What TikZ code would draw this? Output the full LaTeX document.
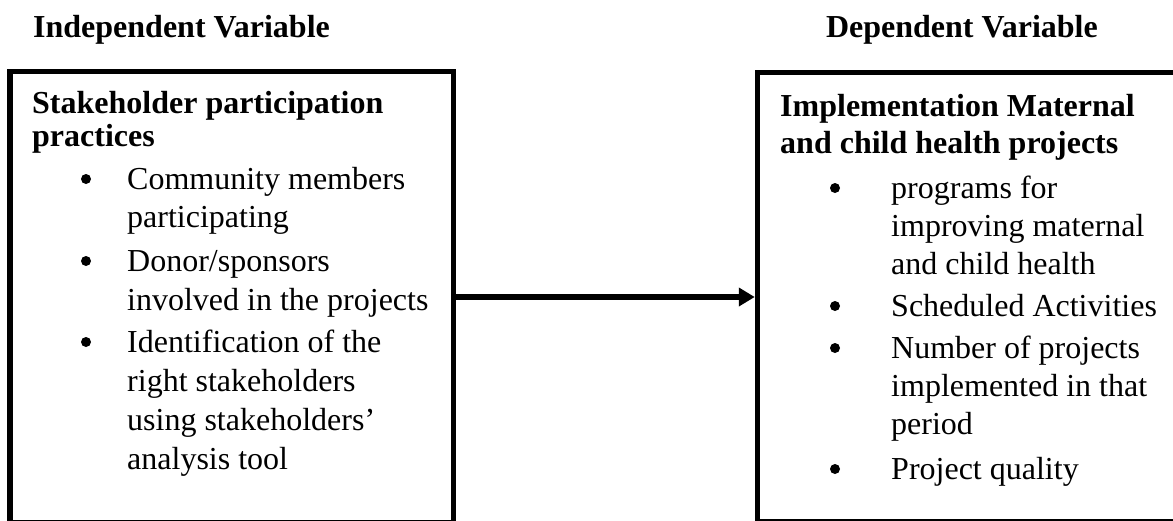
\documentclass[tikz,border=0pt]{standalone}
\usepackage{fontspec}
\setmainfont{Liberation Serif}
\usetikzlibrary{positioning}
\usetikzlibrary{arrows.meta,calc}
\tikzstyle{varbox}=[draw,line width=5.5pt,inner sep=0pt,minimum height=451pt]
\tikzstyle{heading}=[anchor=base west,inner sep=0pt,font=\fontsize{32}{32}\selectfont\bfseries]
\tikzstyle{itemtext}=[anchor=base west,inner sep=0pt,font=\fontsize{32}{32}\selectfont]
\tikzstyle{dot}=[circle,fill=black,inner sep=0pt,minimum size=10pt]
\tikzstyle{link}=[draw,line width=5.5pt,-{Triangle[length=16pt,width=18pt]}]

\begin{document}
\begin{tikzpicture}[x=1pt,y=-1pt]

    \useasboundingbox (0,0) rectangle (1173,520);
    \clip (0,0) rectangle (1173,520);

    % titles over the boxes
    \node[heading] (indep) at (33,37) {Independent Variable};
    \node[heading,anchor=base east] (dep) at (1098,37) {Dependent Variable};

    % the two boxes, cut at the lower edge
    \node[varbox,minimum width=443.5pt] (leftbox) at (231.75,297) {};
    \node[varbox,minimum width=460pt,minimum height=449pt] (rightbox) at (987.5,297) {};

    % left box
    \foreach \y/\txt in {113/Stakeholder participation, 146/practices}
        \node[heading] (lh\y) at (32,\y) {\txt};
    \foreach \y in {189,271,352}
        \node[dot] (lb\y) at (86,\y-10) {};
    \foreach \y/\txt in {189/Community members, 227/participating, 271/{Donor/sponsors},
                         310/involved in the projects, 352/Identification of the,
                         391/right stakeholders, 430/using stakeholders', 469/analysis tool}
        \node[itemtext] (lt\y) at (127,\y) {\txt};

    % right box
    \foreach \y/\txt in {116/Implementation Maternal, 153/and child health projects}
        \node[heading] (rh\y) at (780,\y) {\txt};
    \foreach \y in {198,316,358,479}
        \node[dot] (rb\y) at (835,\y-10) {};
    \foreach \y/\txt in {198/programs for, 236/improving maternal, 274/and child health,
                         316/Scheduled Activities, 358/Number of projects,
                         396/implemented in that, 434/period, 479/Project quality}
        \node[itemtext] (rt\y) at (891,\y) {\txt};

    \path[link] (leftbox.east) -- (leftbox.east -| rightbox.west);

\end{tikzpicture}
\end{document}
